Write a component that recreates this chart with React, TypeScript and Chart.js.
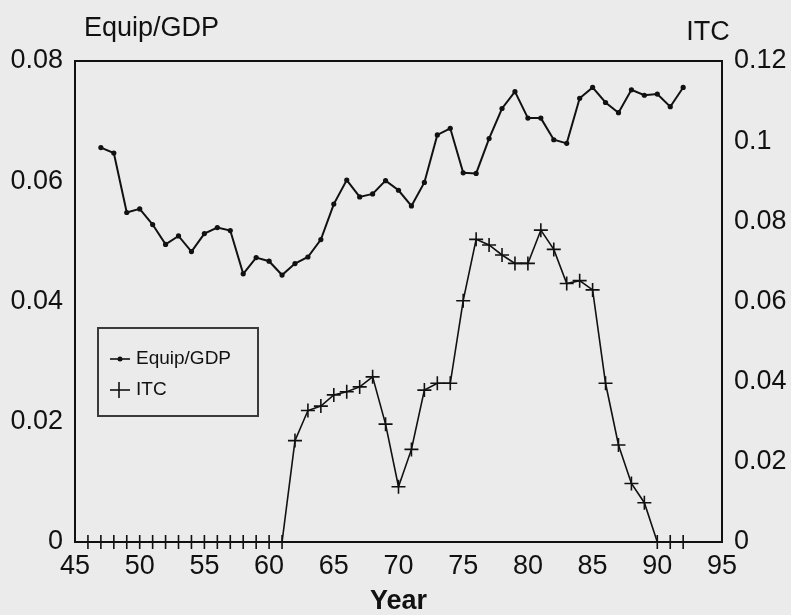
import { useEffect, useRef } from 'react';
import { Chart, registerables } from 'chart.js';

Chart.register(...registerables);

// ---- data ----
const equipYears = [47, 48, 49, 50, 51, 52, 53, 54, 55, 56, 57, 58, 59, 60, 61, 62, 63, 64, 65, 66, 67, 68, 69, 70, 71, 72, 73, 74, 75, 76, 77, 78, 79, 80, 81, 82, 83, 84, 85, 86, 87, 88, 89, 90, 91, 92];
const equipValues = [0.0656, 0.0647, 0.0548, 0.0554, 0.0528, 0.0495, 0.0509, 0.0483, 0.0513, 0.0523, 0.0518, 0.0446, 0.0473, 0.0467, 0.0444, 0.0463, 0.0474, 0.0503, 0.0562, 0.0602, 0.0574, 0.0579, 0.0601, 0.0585, 0.0559, 0.0598, 0.0677, 0.0688, 0.0614, 0.0613, 0.0671, 0.0721, 0.0749, 0.0705, 0.0705, 0.0669, 0.0663, 0.0738, 0.0756, 0.0731, 0.0714, 0.0752, 0.0743, 0.0745, 0.0724, 0.0756];
const itcYears = [46, 47, 48, 49, 50, 51, 52, 53, 54, 55, 56, 57, 58, 59, 60, 61, 62, 63, 64, 65, 66, 67, 68, 69, 70, 71, 72, 73, 74, 75, 76, 77, 78, 79, 80, 81, 82, 83, 84, 85, 86, 87, 88, 89, 90, 91, 92];
const itcValues = [0, 0, 0, 0, 0, 0, 0, 0, 0, 0, 0, 0, 0, 0, 0, 0, 0.0253, 0.0328, 0.0339, 0.0367, 0.0375, 0.0387, 0.0412, 0.0294, 0.0138, 0.0231, 0.0379, 0.0396, 0.0396, 0.0602, 0.0755, 0.0741, 0.0716, 0.0695, 0.0695, 0.0778, 0.0730, 0.0645, 0.0652, 0.0629, 0.0396, 0.0242, 0.0146, 0.0098, 0, 0, 0];

const xTicks = [45, 50, 55, 60, 65, 70, 75, 80, 85, 90, 95];
const leftTicks = [0, 0.02, 0.04, 0.06, 0.08];
const rightTicks = [0, 0.02, 0.04, 0.06, 0.08, 0.1, 0.12];

const leftTitle = 'Equip/GDP';
const rightTitle = 'ITC';
const xTitle = 'Year';
const seriesLabels = ['Equip/GDP', 'ITC'];

const BG = '#ebebeb';
const INK = '#111111';
const FONT = '"Liberation Sans", Arial, Helvetica, sans-serif';

const fmt = (v: number) => String(Number(v.toFixed(2)));

const decorPlugin = {
  id: 'decor',
  beforeDraw(chart: any) {
    const { ctx, width, height } = chart;
    ctx.save();
    ctx.fillStyle = BG;
    ctx.fillRect(0, 0, width, height);
    ctx.restore();
  },
  beforeDatasetsDraw(chart: any) {
    const { ctx, chartArea: a } = chart;
    ctx.save();
    ctx.strokeStyle = INK;
    ctx.lineWidth = 2;
    ctx.strokeRect(a.left, a.top, a.right - a.left, a.bottom - a.top);
    ctx.restore();
  },
  afterDraw(chart: any) {
    const { ctx, chartArea: a } = chart;
    ctx.save();
    ctx.fillStyle = INK;
    ctx.font = `27px ${FONT}`;
    ctx.textBaseline = 'middle';
    ctx.textAlign = 'left';
    ctx.fillText(leftTitle, a.left + 9, 29);
    ctx.textAlign = 'center';
    ctx.fillText(rightTitle, a.right - 14, 33);

    // legend box
    const bx = a.left + 23;
    const by = a.top + 267;
    const bw = 160;
    const bh = 88;
    ctx.strokeStyle = '#3a3a3a';
    ctx.lineWidth = 2;
    ctx.strokeRect(bx, by, bw, bh);
    ctx.font = `19px ${FONT}`;
    ctx.textAlign = 'left';
    const ds = chart.data.datasets;
    const rows = [by + 31, by + 62];
    ds.forEach((d: any, i: number) => {
      const y = rows[i];
      ctx.strokeStyle = INK;
      ctx.fillStyle = INK;
      ctx.lineWidth = 1.6;
      ctx.beginPath();
      ctx.moveTo(bx + 12, y);
      ctx.lineTo(bx + 32, y);
      ctx.stroke();
      if (d.pointStyle === 'cross') {
        ctx.beginPath();
        ctx.moveTo(bx + 21, y - 8);
        ctx.lineTo(bx + 21, y + 8);
        ctx.stroke();
      } else {
        ctx.beginPath();
        ctx.arc(bx + 22, y, 2.5, 0, Math.PI * 2);
        ctx.fill();
      }
      ctx.fillText(d.label, bx + 38, y);
    });
    ctx.restore();
  },
};

export default function App() {
  const ref = useRef<HTMLCanvasElement | null>(null);

  useEffect(() => {
    if (!ref.current) return;
    const chart = new Chart(ref.current, {
      type: 'line',
      data: {
        datasets: [
          {
            label: seriesLabels[0],
            data: equipYears.map((x, i) => ({ x, y: equipValues[i] })),
            yAxisID: 'y',
            borderColor: INK,
            backgroundColor: INK,
            borderWidth: 2,
            pointStyle: 'circle',
            pointRadius: 2.6,
            pointBorderWidth: 0,
            pointBackgroundColor: INK,
            tension: 0,
            clip: false as any,
          },
          {
            label: seriesLabels[1],
            data: itcYears.map((x, i) => ({ x, y: itcValues[i] })),
            yAxisID: 'y1',
            borderColor: INK,
            backgroundColor: INK,
            borderWidth: 1.6,
            pointStyle: 'cross',
            pointRadius: 7,
            pointBorderWidth: 1.6,
            pointBorderColor: INK,
            tension: 0,
            clip: false as any,
          },
        ],
      },
      plugins: [decorPlugin],
      options: {
        responsive: false,
        animation: false,
        layout: { padding: { top: 61, left: 0, right: 0, bottom: 0 } },
        plugins: {
          legend: { display: false },
          tooltip: { enabled: false },
          title: { display: false },
        },
        scales: {
          x: {
            type: 'linear',
            min: 45,
            max: 95,
            afterBuildTicks: (s: any) => {
              s.ticks = xTicks.map((v) => ({ value: v }));
            },
            afterFit: (s: any) => {
              s.height = 73;
            },
            grid: { display: false, drawTicks: false },
            border: { display: false },
            ticks: {
              color: INK,
              padding: 8,
              maxRotation: 0,
              autoSkip: false,
              font: { family: FONT, size: 27 },
              callback: (v: any) => String(v),
            },
            title: {
              display: true,
              text: xTitle,
              color: INK,
              padding: 0,
              font: { family: FONT, size: 27, weight: 'bold', lineHeight: 1 },
            },
          },
          y: {
            type: 'linear',
            position: 'left',
            min: 0,
            max: 0.08,
            afterBuildTicks: (s: any) => {
              s.ticks = leftTicks.map((v) => ({ value: v }));
            },
            afterFit: (s: any) => {
              s.width = 75;
            },
            grid: { display: false, drawTicks: false },
            border: { display: false },
            ticks: {
              color: INK,
              padding: 12,
              font: { family: FONT, size: 27 },
              callback: (v: any) => fmt(Number(v)),
            },
          },
          y1: {
            type: 'linear',
            position: 'right',
            min: 0,
            max: 0.12,
            afterBuildTicks: (s: any) => {
              s.ticks = rightTicks.map((v) => ({ value: v }));
            },
            afterFit: (s: any) => {
              s.width = 69;
            },
            grid: { display: false, drawTicks: false },
            border: { display: false },
            ticks: {
              color: INK,
              padding: 12,
              font: { family: FONT, size: 27 },
              callback: (v: any) => fmt(Number(v)),
            },
          },
        },
      } as any,
    });
    return () => chart.destroy();
  }, []);

  return (
    <div style={{ position: 'fixed', left: 0, top: 0, width: 791, height: 615, background: BG }}>
      <canvas ref={ref} width={791} height={615} style={{ display: 'block', width: 791, height: 615 }} />
    </div>
  );
}
